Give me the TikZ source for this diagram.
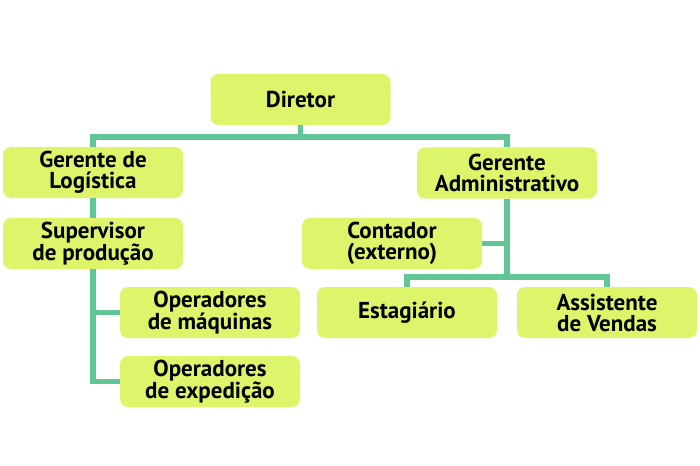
\documentclass[tikz,border=0pt]{standalone}
\usepackage{fontspec}
\setmainfont{PT Sans}
\usepackage{tikz}
\definecolor{cargofill}{HTML}{DDF56B}
\definecolor{linkgreen}{HTML}{62C596}
\tikzset{
	cargo/.style={fill=cargofill, rounded corners=8pt, minimum width=180pt, minimum height=51pt,
		align=center, inner sep=0pt, font=\bfseries\fontsize{23}{21}\selectfont},
	link/.style={draw=linkgreen, line width=5.5pt}
}

\begin{document}
\begin{tikzpicture}[x=1pt,y=-1pt]
	
	\useasboundingbox (0,0) rectangle (700,465);
	
	% caixas
	\node[cargo] (dir) at (300.5,99.5) {Diretor};
	\node[cargo] (glog) at (93,172.5) {Gerente de\\Logística};
	\node[cargo] (sup) at (93,243.5) {Supervisor\\de produção};
	\node[cargo] (opm) at (210,312.5) {Operadores\\de máquinas};
	\node[cargo] (ope) at (210,381.5) {Operadores\\de expedição};
	\node[cargo] (gadm) at (507,173) {Gerente\\Administrativo};
	\node[cargo] (cont) at (392,243.5) {Contador\\(externo)};
	\node[cargo] (est) at (407,312.5) {Estagiário};
	\node[cargo] (ass) at (607,312.5) {Assistente\\de Vendas};
	
	\coordinate (jD) at (300.5,137);
	\coordinate (jA) at (507,277);
	
	% ligacoes
	\draw[link] (dir.south) -- (jD);
	\draw[link] (glog.north) |- (jD) -| (gadm.north);
	\draw[link] (glog.south) -- (sup.north);
	\draw[link] (sup.south) |- (opm.west);
	\draw[link] (sup.south) |- (ope.west);
	\draw[link] (gadm.south) -- (jA);
	\draw[link] (cont.east) -| (gadm.south);
	\draw[link] (est.north) |- (jA) -| (ass.north);
	 
\end{tikzpicture}
\end{document}
